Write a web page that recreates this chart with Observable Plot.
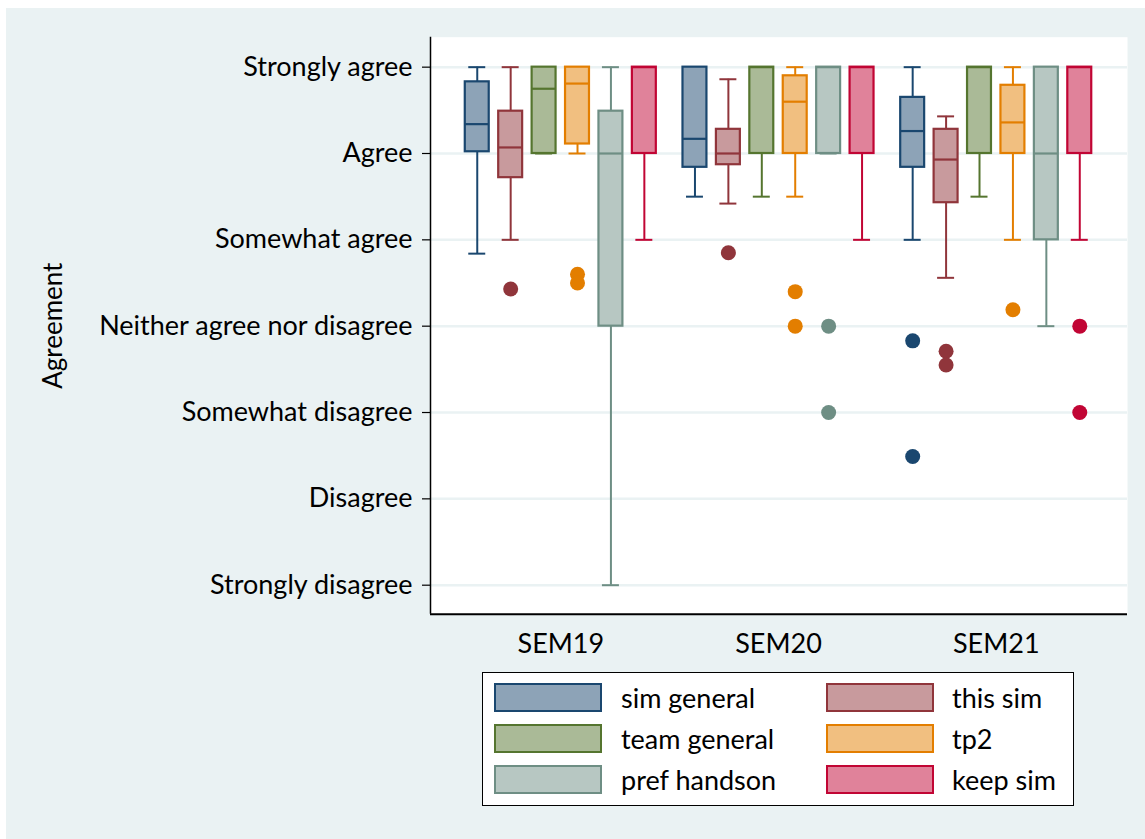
<!DOCTYPE html>
<html>
<head>
<meta charset="utf-8">
<script src="https://cdn.jsdelivr.net/npm/d3@7"></script>
<script src="https://cdn.jsdelivr.net/npm/@observablehq/plot@0.6"></script>
<style>
  html, body { margin: 0; padding: 0; background: #ffffff; }
  #bg { position: absolute; left: 6px; top: 8px; width: 1139px; height: 831px; background: #eaf2f3; overflow: hidden; }
  #chart { position: absolute; left: 0; top: 0; }
  #legend { position: absolute; left: 476px; top: 664px; width: 592px; height: 134px; box-sizing: border-box;
            background: #fff; border: 1px solid #000; font-family: Lato, sans-serif; font-size: 27px; color: #000; }
  .sw { position: absolute; width: 108px; height: 29px; box-sizing: border-box; border: 2.5px solid; }
  .lt { position: absolute; line-height: 29px; white-space: nowrap; }
</style>
</head>
<body>
<div id="bg"><div id="chart"></div><div id="legend"></div></div>
<script>
// ---- data ----
const groups = ["SEM19", "SEM20", "SEM21"];
const series = ["sim general", "this sim", "team general", "tp2", "pref handson", "keep sim"];
const seriesColors = ["#1a476f", "#90353b", "#55752f", "#e37e00", "#6e8e84", "#c10534"];
const levels = ["Strongly disagree", "Disagree", "Somewhat disagree", "Neither agree nor disagree",
                "Somewhat agree", "Agree", "Strongly agree"];
const levelValues = [1, 2, 3, 4, 5, 6, 7];

// box statistics, rows = groups, columns = series
const whiskerLow  = [[4.84, 5.00, 6.0, 6.00, 1.00, 5.0], [5.50, 5.42, 5.5, 5.50, 6.0, 5.0], [5.00, 4.56, 5.5, 5.00, 4.0, 5.0]];
const quartile1   = [[6.02, 5.72, 6.0, 6.11, 4.00, 6.0], [5.84, 5.87, 6.0, 6.00, 6.0, 6.0], [5.84, 5.43, 6.0, 6.00, 5.0, 6.0]];
const medians     = [[6.34, 6.07, 6.75, 6.81, 6.00, 7.0], [6.17, 6.00, 7.0, 6.60, 7.0, 7.0], [6.26, 5.93, 7.0, 6.36, 6.0, 7.0]];
const quartile3   = [[6.83, 6.49, 7.0, 7.00, 6.49, 7.0], [7.00, 6.28, 7.0, 6.90, 7.0, 7.0], [6.65, 6.28, 7.0, 6.79, 7.0, 7.0]];
const whiskerHigh = [[7.00, 7.00, 7.0, 7.00, 7.00, 7.0], [7.00, 6.86, 7.0, 7.00, 7.0, 7.0], [7.00, 6.43, 7.0, 7.00, 7.0, 7.0]];

// outliers: [group index, series index, value]
const outlierGroup  = [0, 0, 0, 1, 1, 1, 1, 1, 2, 2, 2, 2, 2, 2, 2];
const outlierSeries = [1, 3, 3, 1, 3, 3, 4, 4, 0, 0, 1, 1, 3, 5, 5];
const outlierValue  = [4.43, 4.6, 4.5, 4.85, 4.4, 4.0, 4.0, 3.0, 3.83, 2.49, 3.71, 3.55, 4.19, 4.0, 3.0];

// ---- layout helpers ----
const step = 0.1535;      // series offset within a group (x units)
const hw = 0.055;         // half box width
const cw = 0.039;         // half cap width
const pos = (g, s) => g + (s - 2.5) * step;
const lighten = c => d3.interpolateRgb(c, "#ffffff")(0.5);

const boxes = [];
groups.forEach((g, gi) => series.forEach((s, si) => {
  boxes.push({
    group: g, series: s, x: pos(gi, si), color: seriesColors[si],
    lo: whiskerLow[gi][si], q1: quartile1[gi][si], med: medians[gi][si],
    q3: quartile3[gi][si], hi: whiskerHigh[gi][si]
  });
}));
const outliers = outlierValue.map((v, i) => ({
  x: pos(outlierGroup[i], outlierSeries[i]), y: v, color: seriesColors[outlierSeries[i]]
}));

const xMin = -0.5985, xMax = 2.603, yMin = 0.664, yMax = 7.347;

const chart = Plot.plot({
  width: 1139,
  height: 650,
  marginLeft: 424,
  marginRight: 18,
  marginTop: 28.7,
  marginBottom: 44.3,
  style: { background: "transparent", fontFamily: "Lato, sans-serif", fontSize: "27px", color: "#000" },
  x: { domain: [xMin, xMax], axis: null },
  y: { domain: [yMin, yMax], axis: null },
  marks: [
    Plot.frame({ fill: "#ffffff", stroke: "none" }),
    Plot.gridY(levelValues, { stroke: "#eaf2f3", strokeOpacity: 1, strokeWidth: 2.5 }),
    // whiskers
    Plot.ruleX(boxes, { x: "x", y1: "q3", y2: "hi", stroke: "color", strokeWidth: 2 }),
    Plot.ruleX(boxes, { x: "x", y1: "lo", y2: "q1", stroke: "color", strokeWidth: 2 }),
    Plot.ruleY(boxes, { y: "hi", x1: d => d.x - cw, x2: d => d.x + cw, stroke: "color", strokeWidth: 2 }),
    Plot.ruleY(boxes, { y: "lo", x1: d => d.x - cw, x2: d => d.x + cw, stroke: "color", strokeWidth: 2 }),
    // boxes
    Plot.rect(boxes, { x1: d => d.x - hw, x2: d => d.x + hw, y1: "q1", y2: "q3",
                       fill: d => lighten(d.color), stroke: "color", strokeWidth: 2.2 }),
    Plot.ruleY(boxes, { y: "med", x1: d => d.x - hw, x2: d => d.x + hw, stroke: "color", strokeWidth: 2.2 }),
    // outliers
    Plot.dot(outliers, { x: "x", y: "y", r: 7.5, fill: "color", stroke: "none" }),
    // axes
    Plot.axisY(levelValues, { tickSize: 8, tickPadding: 10, tickFormat: v => levels[v - 1],
                              fontSize: 27, stroke: "#000", strokeWidth: 1.2, label: null }),
    Plot.axisX([0, 1, 2], { tickSize: 0, tickPadding: 19.8, tickFormat: i => groups[i], fontSize: 27, label: null }),
    Plot.ruleX([xMin], { stroke: "#000", strokeWidth: 1.5 }),
    Plot.ruleY([yMin], { stroke: "#000", strokeWidth: 2 }),
    Plot.text(["Agreement"], { frameAnchor: "left", dx: -377, rotate: -90, textAnchor: "middle",
                               fontSize: 26, fill: "#000" })
  ]
});
document.getElementById("chart").appendChild(chart);

// legend
const legend = document.getElementById("legend");
series.forEach((s, i) => {
  const col = i % 2, row = Math.floor(i / 2);
  const sw = document.createElement("div");
  sw.className = "sw";
  sw.style.left = (col ? 343 : 11) + "px";
  sw.style.top = (10 + row * 41) + "px";
  sw.style.borderColor = seriesColors[i];
  sw.style.background = lighten(seriesColors[i]);
  legend.appendChild(sw);
  const t = document.createElement("div");
  t.className = "lt";
  t.textContent = s;
  t.style.left = (col ? 469 : 138) + "px";
  t.style.top = (10 + row * 41) + "px";
  legend.appendChild(t);
});
</script>
</body>
</html>
